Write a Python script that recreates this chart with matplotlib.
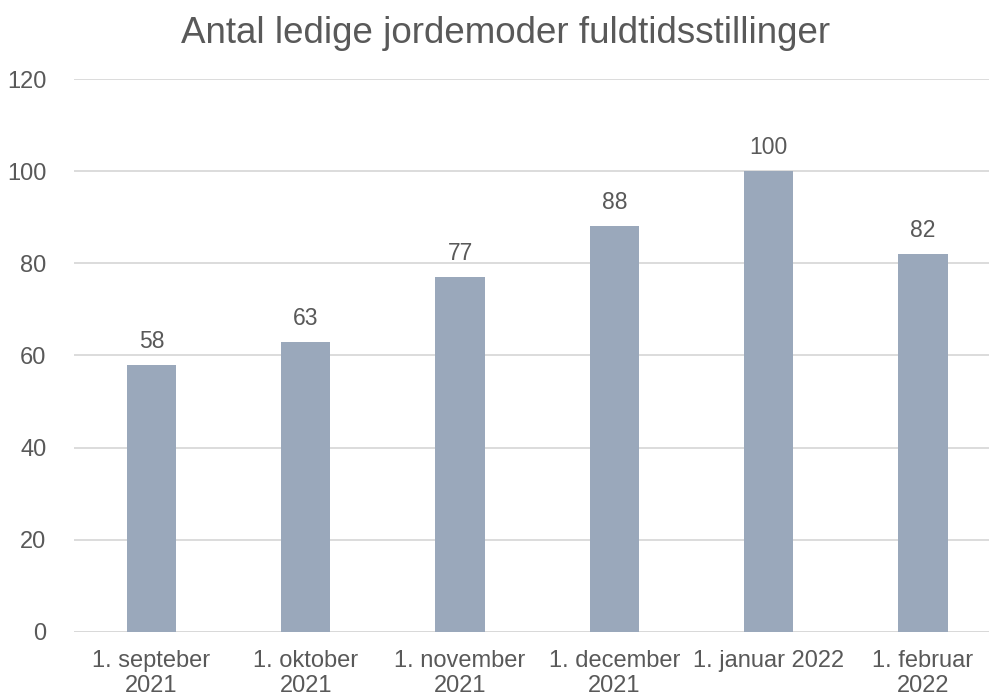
import matplotlib
matplotlib.use("Agg")
import matplotlib.pyplot as plt
import numpy as np

plt.rcParams['font.family'] = ['Liberation Sans', 'DejaVu Sans']

labels = ['1. septeber\n2021', '1. oktober\n2021', '1. november\n2021',
          '1. december\n2021', '1. januar 2022', '1. februar\n2022']
values = [58, 63, 77, 88, 100, 82]

txt = '#595959'
bar_col = '#9AA8BB'
grid_col = '#D9D9D9'

fig = plt.figure(figsize=(9.89, 6.98), dpi=100)
ax = fig.add_axes([0.0752, 0.0946, 0.936, 0.7922])

x = np.arange(len(values))
ax.bar(x, values, width=0.32, color=bar_col, zorder=2)
for xi, v in zip(x, values):
    ax.text(xi, v + 2.6, str(v), ha='center', va='bottom', fontsize=16.5, color=txt)

ax.set_xlim(-0.5, len(values) - 0.5)
ax.set_ylim(0, 120)
ax.set_yticks(range(0, 121, 20))
ax.yaxis.grid(True, color=grid_col, linewidth=1.3, zorder=0)
ax.set_axisbelow(True)
for s in ax.spines.values():
    s.set_visible(False)
ax.axhline(0, color=grid_col, linewidth=1.3, zorder=1)
ax.tick_params(length=0, labelsize=17, colors=txt)
ax.tick_params(axis='y', pad=20)
ax.tick_params(axis='x', pad=13)
ax.set_xticks(x)
ax.set_xticklabels(labels, linespacing=1.15)

fig.text(0.511, 0.952, 'Antal ledige jordemoder fuldtidsstillinger', ha='center', va='center',
         fontsize=26.5, color=txt)

fig.savefig('out.png', dpi=100)
